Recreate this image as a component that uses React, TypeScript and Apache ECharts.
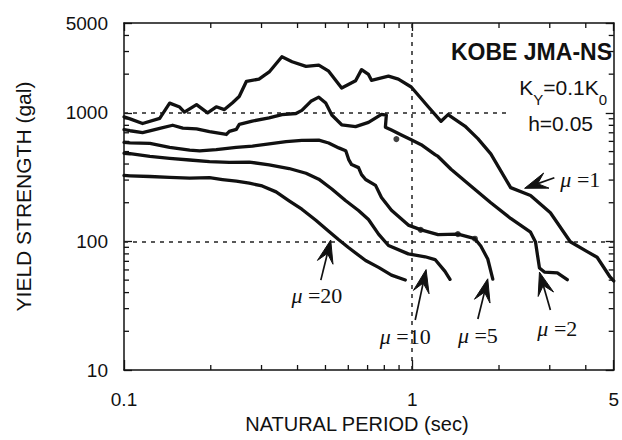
import React, { useEffect, useRef } from "react";
import * as echarts from "echarts";

// ---- tick values ----
const xTickLabels = [0.1, 1, 5];
const yTickLabels = [10, 100, 1000, 5000];
const xMinorTicks = [0.2, 0.3, 0.4, 0.5, 0.6, 0.7, 0.8, 0.9, 2, 3, 4];
const yMinorTicks = [20, 30, 40, 50, 60, 70, 80, 90, 200, 300, 400, 500, 600, 700, 800, 900, 2000, 3000, 4000];

// ---- reference (dotted) lines ----
const refHorizontal = [
  { y: 1000, xFrom: 0.1, xTo: 2.14 },
  { y: 100, xFrom: 0.1, xTo: 5 },
];
const refVertical = [1];

// ---- series: [period (sec), yield strength (gal)] ----
const mu1 = [
  [0.1, 930], [0.105, 898], [0.116, 826], [0.133, 907], [0.144, 1190], [0.156, 1110],
  [0.162, 1015], [0.1785, 1160], [0.195, 1000], [0.209, 1115], [0.223, 1060], [0.238, 1200],
  [0.251, 1340], [0.266, 1760], [0.294, 1830], [0.319, 2080], [0.353, 2730], [0.383, 2500],
  [0.428, 2300], [0.474, 2350], [0.513, 2110], [0.569, 1560], [0.636, 1780], [0.667, 2170],
  [0.705, 1990], [0.722, 1790], [0.827, 1930], [0.895, 1830], [0.992, 1590], [1.136, 1115],
  [1.259, 860], [1.331, 970], [1.523, 790], [1.689, 630], [1.873, 480], [2.195, 262],
  [2.573, 228], [3.015, 167], [3.535, 99.5], [4.046, 83.3], [4.379, 75.3], [4.856, 52.9], [5.0, 49.3],
];
const mu2 = [
  [0.1, 740], [0.105, 726], [0.116, 703], [0.133, 757], [0.1475, 801], [0.16, 762],
  [0.1785, 750], [0.198, 714], [0.2266, 679], [0.232, 718], [0.2453, 745], [0.2512, 815],
  [0.2785, 863], [0.3187, 914], [0.3534, 968], [0.395, 989], [0.414, 1045], [0.445, 1230],
  [0.474, 1325], [0.501, 1192], [0.526, 963], [0.569, 808], [0.636, 782], [0.705, 843],
  [0.782, 975], [0.813, 959], [0.807, 774], [0.847, 735], [0.917, 673], [0.992, 617],
  [1.074, 566], [1.2, 474], [1.229, 458], [1.363, 364], [1.597, 270], [1.873, 200],
  [2.195, 151], [2.573, 118], [2.677, 98.8], [2.72, 78.2], [2.763, 62.1], [2.874, 57.8],
  [3.187, 57], [3.45, 50.4],
];
const mu5 = [
  [0.1, 590], [0.105, 585], [0.123, 578], [0.144, 540], [0.169, 514], [0.183, 507],
  [0.209, 518], [0.245, 540], [0.279, 552], [0.319, 574], [0.365, 598], [0.414, 611],
  [0.474, 613], [0.513, 583], [0.556, 534], [0.588, 507], [0.602, 433], [0.616, 396],
  [0.651, 375], [0.667, 331], [0.689, 303], [0.746, 273], [0.782, 220], [0.847, 175],
  [0.969, 134], [1.074, 123], [1.229, 113], [1.441, 114], [1.649, 105], [1.729, 92],
  [1.828, 73], [1.903, 51],
];
const mu10 = [
  [0.1, 485], [0.105, 481], [0.123, 458], [0.144, 443], [0.169, 430], [0.198, 417],
  [0.232, 412], [0.272, 414], [0.319, 394], [0.374, 369], [0.428, 339], [0.474, 305],
  [0.526, 256], [0.588, 207], [0.651, 174], [0.705, 148], [0.764, 114], [0.827, 93],
  [0.969, 80], [1.109, 76], [1.2, 72.3], [1.299, 58.5], [1.352, 50.7],
];
const mu20 = [
  [0.1, 326], [0.105, 324], [0.123, 320], [0.144, 315], [0.169, 311], [0.198, 313],
  [0.2195, 303], [0.2453, 294], [0.272, 284], [0.3015, 270], [0.337, 243], [0.374, 207],
  [0.414, 178], [0.463, 146], [0.513, 120], [0.556, 103], [0.602, 89.3], [0.689, 71],
  [0.764, 62.8], [0.847, 54.7], [0.946, 50.1],
];
// thick blobs on the traces
const blobs = [[0.881, 625], [1.07, 123], [1.44, 114], [1.65, 105]];

// ---- annotations (data coordinates) ----
const muLabels = ["1", "2", "5", "10", "20"];
const arrowTips = [[2.454, 259], [2.763, 57.7], [1.828, 51.2], [1.117, 60.4], [0.5214, 102.6]];
const arrowTails = [[3.112, 313], [3.015, 29.3], [1.689, 24.9], [1.024, 24.5], [0.4818, 50]];
const labelPos = [[3.265, 301], [3.187, 21.2], [1.689, 18.4], [0.946, 18.1], [0.4667, 38.1]];
const labelAlign = ["left", "center", "center", "center", "center"];

const INK = "#111";
const SANS = "'Liberation Sans', Arial, sans-serif";
const SERIF = "'Liberation Serif', 'Times New Roman', serif";

function fmtTick(labels: number[]) {
  return (v: number) => {
    let best = labels[0];
    for (const l of labels) if (Math.abs(Math.log10(l) - Math.log10(v)) < Math.abs(Math.log10(best) - Math.log10(v))) best = l;
    return String(best);
  };
}

export default function App() {
  const ref = useRef<HTMLDivElement>(null);
  useEffect(() => {
    if (!ref.current) return;
    const chart = echarts.init(ref.current, undefined, { renderer: "svg" });
    const lineSeries = (name: string, data: number[][]) => ({
      name,
      type: "line",
      data,
      showSymbol: false,
      symbol: "none",
      silent: true,
      lineStyle: { color: INK, width: 3.3, join: "round", cap: "round" },
      z: 5,
    });
    const dashStyle = { color: "#222", width: 1.5, type: [4, 5] };
    const tickStyle = { stroke: INK, lineWidth: 1.3 };
    const option: any = {
      animation: false,
      backgroundColor: "#fff",
      grid: { left: 124, right: 5, top: 23, bottom: 70 },
      xAxis: [
        {
          type: "log", logBase: 10, min: 0.1, max: 5,
          name: "NATURAL PERIOD (sec)", nameLocation: "middle", nameGap: 44,
          nameTextStyle: { fontFamily: SANS, fontSize: 20, color: INK, padding: [0, 24, 0, 0] },
          axisLine: { show: true, lineStyle: { color: INK, width: 1.5 } },
          axisTick: { show: true, inside: true, length: 10, lineStyle: { color: INK, width: 1.3 } },
          axisLabel: { fontFamily: SANS, fontSize: 19, color: INK, margin: 20, formatter: fmtTick(xTickLabels) },
          splitLine: { show: false },
        },
        {
          type: "log", logBase: 10, min: 0.1, max: 5, position: "top",
          axisLine: { show: true, lineStyle: { color: INK, width: 1.5 } },
          axisTick: { show: true, inside: true, length: 8, lineStyle: { color: INK, width: 1.3 } },
          axisLabel: { show: false },
          splitLine: { show: false },
        },
      ],
      yAxis: [
        {
          type: "log", logBase: 10, min: 10, max: 5000,
          name: "YIELD STRENGTH (gal)", nameLocation: "middle", nameGap: 90,
          nameTextStyle: { fontFamily: SANS, fontSize: 21, color: INK },
          axisLine: { show: true, lineStyle: { color: INK, width: 1.5 } },
          axisTick: { show: true, inside: true, length: 8, lineStyle: { color: INK, width: 1.3 } },
          axisLabel: { fontFamily: SANS, fontSize: 19, color: INK, margin: 16, formatter: fmtTick(yTickLabels) },
          splitLine: { show: false },
        },
        {
          type: "log", logBase: 10, min: 10, max: 5000, position: "right",
          axisLine: { show: true, lineStyle: { color: INK, width: 1.5 } },
          axisTick: { show: true, inside: true, length: 8, lineStyle: { color: INK, width: 1.3 } },
          axisLabel: { show: false },
          splitLine: { show: false },
        },
      ],
      series: [
        {
          ...lineSeries("mu1", mu1),
          markLine: {
            silent: true,
            symbol: "none",
            label: { show: false },
            lineStyle: dashStyle,
            data: [
              ...refHorizontal.map((r) => [{ coord: [r.xFrom, r.y] }, { coord: [r.xTo, r.y] }]),
              ...refVertical.map((x) => [{ coord: [x, 10] }, { coord: [x, 5000] }]),
            ],
          },
        },
        lineSeries("mu2", mu2),
        lineSeries("mu5", mu5),
        lineSeries("mu10", mu10),
        lineSeries("mu20", mu20),
        {
          type: "scatter", data: blobs, symbolSize: 6, silent: true,
          itemStyle: { color: INK }, z: 6,
        },
        {
          type: "custom",
          coordinateSystem: "cartesian2d",
          clip: false,
          silent: true,
          data: [
            ...xMinorTicks.map((v) => [v, 10, 0]),
            ...yMinorTicks.map((v) => [0.1, v, 1]),
          ],
          renderItem: (params: any, api: any) => {
            const cs = params.coordSys;
            const p = api.coord([api.value(0), api.value(1)]);
            const L = 5;
            if (api.value(2) === 0) {
              return {
                type: "group",
                children: [
                  { type: "line", shape: { x1: p[0], y1: cs.y + cs.height, x2: p[0], y2: cs.y + cs.height - L }, style: tickStyle },
                  { type: "line", shape: { x1: p[0], y1: cs.y, x2: p[0], y2: cs.y + L }, style: tickStyle },
                ],
              };
            }
            return {
              type: "group",
              children: [
                { type: "line", shape: { x1: cs.x, y1: p[1], x2: cs.x + L, y2: p[1] }, style: tickStyle },
                { type: "line", shape: { x1: cs.x + cs.width, y1: p[1], x2: cs.x + cs.width - L, y2: p[1] }, style: tickStyle },
              ],
            };
          },
        },
      ],
    };
    chart.setOption(option);

    const graphics: any[] = [
      {
        type: "text", x: 612, y: 52, z: 10,
        style: { text: "KOBE JMA-NS", align: "right", verticalAlign: "middle", fontFamily: SANS, fontWeight: "bold", fontSize: 23, fill: INK },
      },
      {
        type: "text", x: 607, y: 92, z: 10,
        style: {
          text: "{a|K}{s|Y}{a|=0.1K}{s|0}",
          align: "right", verticalAlign: "middle", fill: INK,
          rich: {
            a: { fontFamily: SANS, fontSize: 21, lineHeight: 21, verticalAlign: "top", fill: INK },
            s: { fontFamily: SANS, fontSize: 15, lineHeight: 30, verticalAlign: "bottom", fill: INK },
          },
        },
      },
      {
        type: "text", x: 593, y: 123, z: 10,
        style: { text: "h=0.05", align: "right", verticalAlign: "middle", fontFamily: SANS, fontSize: 21, fill: INK },
      },
    ];
    const toPx = (d: number[]) => chart.convertToPixel({ gridIndex: 0 } as any, d) as number[];
    muLabels.forEach((m, i) => {
      const tip = toPx(arrowTips[i]);
      const tail = toPx(arrowTails[i]);
      const lab = toPx(labelPos[i]);
      const dx = tail[0] - tip[0];
      const dy = tail[1] - tip[1];
      const len = Math.hypot(dx, dy) || 1;
      const ux = dx / len, uy = dy / len;
      const nx = -uy, ny = ux;
      const L = 23, W = 16;
      graphics.push({
        type: "line", z: 10,
        shape: { x1: tip[0] + ux * 8, y1: tip[1] + uy * 8, x2: tail[0], y2: tail[1] },
        style: { stroke: INK, lineWidth: 1.7 },
      });
      graphics.push({
        type: "polygon", z: 10,
        shape: {
          points: [
            [tip[0], tip[1]],
            [tip[0] + ux * L + nx * W / 2, tip[1] + uy * L + ny * W / 2],
            [tip[0] + ux * L * 0.6, tip[1] + uy * L * 0.6],
            [tip[0] + ux * L - nx * W / 2, tip[1] + uy * L - ny * W / 2],
          ],
        },
        style: { fill: INK, stroke: INK, lineWidth: 1, lineJoin: "round" },
      });
      graphics.push({
        type: "text", x: lab[0], y: lab[1], z: 10,
        style: {
          text: `{m|μ} =${m}`,
          align: labelAlign[i], verticalAlign: "middle",
          fontFamily: SERIF, fontSize: 22, fill: INK,
          rich: { m: { fontFamily: SERIF, fontStyle: "italic", fontSize: 22, fill: INK } },
        },
      });
    });
    chart.setOption({ graphic: graphics });

    return () => chart.dispose();
  }, []);
  return <div ref={ref} style={{ position: "absolute", left: 0, top: 0, width: 622, height: 440 }} />;
}
